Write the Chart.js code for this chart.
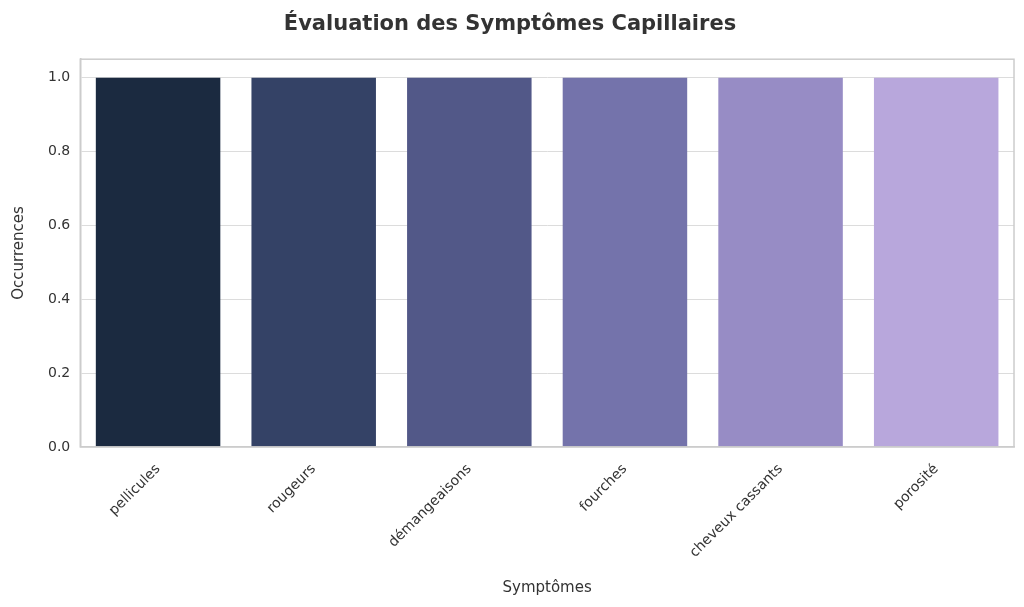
<!DOCTYPE html>
<html><head><meta charset="utf-8">
<script src="https://cdn.jsdelivr.net/npm/chart.js@4"></script>
<style>body{margin:0;background:#fff}#w{width:1024px;height:607px}</style>
</head><body><div id="w"><canvas id="c"></canvas></div>
<script>
const categories=["pellicules","rougeurs","démangeaisons","fourches","cheveux cassants","porosité"];
const values=[1,1,1,1,1,1];
const colors=["#1b2a40","#344266","#525888","#7473ab","#978cc5","#b8a7dc"];
const yTicks=[0,0.2,0.4,0.6,0.8,1.0];
const font={family:"DejaVu Sans",size:14};
new Chart(document.getElementById('c'),{type:'bar',
data:{labels:categories,datasets:[{data:values,backgroundColor:colors,categoryPercentage:0.8,barPercentage:1}]},
options:{responsive:true,maintainAspectRatio:false,animation:false,
layout:{padding:{left:6,right:10,top:4,bottom:6}},
plugins:{legend:{display:false},title:{display:true,text:"Évaluation des Symptômes Capillaires",color:"#333",font:{family:"DejaVu Sans",size:21},padding:{top:8,bottom:22}}},
scales:{
x:{grid:{display:false},border:{color:"#ccc",width:1.5},ticks:{color:"#333",font,maxRotation:45,minRotation:45,padding:6},
title:{display:true,text:"Symptômes",color:"#333",font:{family:"DejaVu Sans",size:15},padding:{top:12}}},
y:{min:0,max:1.05,afterBuildTicks:a=>{a.ticks=yTicks.map(v=>({value:v}))},
grid:{color:"#dcdcdc",drawTicks:false},border:{color:"#ccc",width:1.5},
ticks:{color:"#333",font,padding:10,callback:v=>v.toFixed(1)},
title:{display:true,text:"Occurrences",color:"#333",font:{family:"DejaVu Sans",size:15},padding:{bottom:10}}}}},
plugins:[{id:'frame',afterDraw(ch){const a=ch.chartArea,x=ch.ctx;x.save();x.strokeStyle='#ccc';x.lineWidth=1.5;x.strokeRect(a.left,a.top,a.right-a.left,a.bottom-a.top);x.restore();}}]
});
</script></body></html>
